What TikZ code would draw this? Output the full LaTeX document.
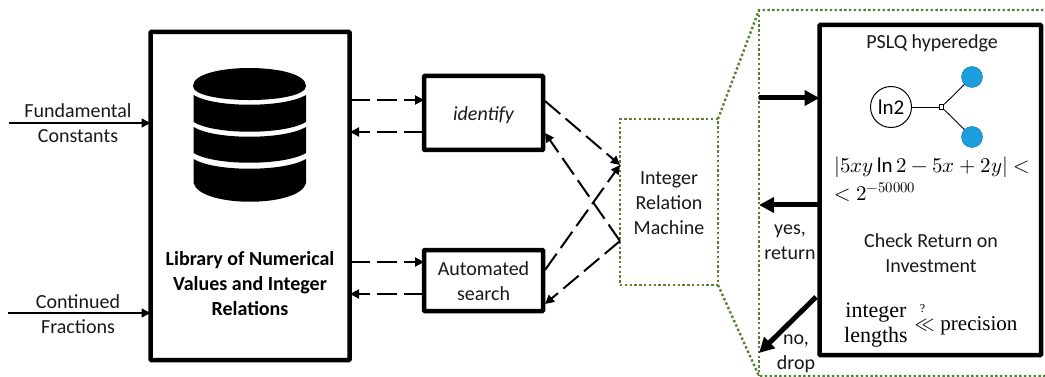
\documentclass[tikz,border=0pt]{standalone}
\usepackage{fontspec}
\usepackage{unicode-math}
\setmainfont{Carlito}
\setmathfont{Latin Modern Math}
\newfontfamily\cmb{Liberation Serif}
\usetikzlibrary{arrows.meta,calc}
\definecolor{dotgreen}{RGB}{84,130,53}
\definecolor{hubblue}{RGB}{27,157,222}
\tikzset{
 x=1pt,y=-1pt,
 thickbox/.style={draw=black,line width=4.5pt,fill=white,rounded corners=0.8pt,inner sep=0pt,outer sep=0pt,anchor=north west},
 lbl/.style={font=\fontsize{20}{25}\selectfont,align=center,text=black!90,inner sep=0pt},
 thinarrow/.style={line width=1.5pt,-{Triangle[length=9pt,width=9pt]}},
 dasharrow/.style={line width=2pt,dash pattern=on 20pt off 7pt,-{Triangle[length=9pt,width=9pt]}},
 bigarrow/.style={line width=5pt,-{Triangle[length=15pt,width=15pt]}},
 dotgreenline/.style={draw=dotgreen,line width=2.4pt,dash pattern=on 2.4pt off 2.4pt},
 hub/.style={circle,fill=hubblue,draw=hubblue!80!black,line width=0.5pt,minimum size=21pt,inner sep=0pt}
}
\begin{document}
\begin{tikzpicture}
\useasboundingbox (0,0) rectangle (1045,377);
\fill[white] (0,0) rectangle (1045,377);
% boxes
\node[thickbox,minimum width=199pt,minimum height=328pt] (lib) at (150.5,32) {};
\node[thickbox,minimum width=119pt,minimum height=74pt] (ident) at (424,76) {};
\node[thickbox,minimum width=119pt,minimum height=61pt] (auto) at (424,250) {};
\node[dotgreenline,draw,minimum width=98pt,minimum height=166pt,inner sep=0pt,outer sep=0pt,anchor=north west] (irm) at (620,119) {};
% dotted zoom
\coordinate (zt) at (759,10);
\coordinate (zb) at (759,376);
\coordinate (ztr) at (1045,10);
\coordinate (zbr) at (1045,376);
\draw[dotgreenline] (irm.north east) -- (zt) -- (ztr);
\draw[dotgreenline] (irm.south east) -- (zb) -- (zbr);
\draw[dotgreenline] (zt) -- (zb);
\node[thickbox,minimum width=221.5pt,minimum height=330pt] (pslq) at (819.5,25) {};
% database
\fill[black] (193,86) .. controls (193,62) and (306,62) .. (306,86) .. controls (306,104.7) and (193,104.7) .. (193,86) -- cycle;
\fill[black] (193.5,95) .. controls (215,108) and (284,108) .. (306,95) -- (306,122) .. controls (284,135) and (215,135) .. (193.5,122) -- cycle;
\fill[black] (193.5,127) .. controls (215,140) and (284,140) .. (306,127) -- (306,153) .. controls (284,166) and (215,166) .. (193.5,153) -- cycle;
\fill[black] (193.5,159) .. controls (215,172) and (284,172) .. (306,159) -- (306,183) .. controls (300,208) and (200,208) .. (193.5,183) -- cycle;
% labels
\node[lbl] (fc) at (78,123.5) {Fundamental\\Constants};
\node[lbl] (cf) at (78,314) {Continued\\Fractions};
\node[lbl,font=\fontsize{20}{25}\selectfont\bfseries,text=black] (libtxt) at (250,284) {Library of Numerical\\Values and Integer\\Relations};
\node[lbl,font=\fontsize{20}{25}\selectfont\itshape] (idtxt) at (483.5,115) {identify};
\node[lbl] (autotxt) at (483.5,281) {Automated\\search};
\node[lbl] (irmtxt) at (669,203) {Integer\\Relation\\Machine};
\node[lbl] (ptitle) at (932,43) {PSLQ hyperedge};
\node[lbl] (roi) at (931,253) {Check Return on\\Investment};
\node[lbl] (yes) at (790,242) {yes,\\return};
\node[lbl] (no) at (796,354) {no,\\drop};
% hyperedge
\node[circle,draw,line width=1pt,minimum size=41pt,inner sep=0pt,font=\fontsize{21}{24}\selectfont] (ln) at (891,107) {ln2};
\node[draw,line width=0.8pt,fill=white,minimum size=4.5pt,inner sep=0pt] (hb) at (941.5,107) {};
\node[hub] (h1) at (972,77) {};
\node[hub] (h2) at (972,137) {};
\draw[line width=0.9pt] (ln) -- (hb);
\draw[line width=0.9pt] (hb) -- (h1);
\draw[line width=0.9pt] (hb) -- (h2);
% formula
\node[inner sep=0pt,anchor=west,font=\fontsize{21}{24}\selectfont] (f1) at (834,167) {$|5xy\ln 2-5x+2y|<$};
\node[inner sep=0pt,anchor=west,font=\fontsize{21}{24}\selectfont] (f2) at (834,192) {$<2^{-50000}$};
\node[inner sep=0pt,font=\fontsize{22}{25}\selectfont\cmb,align=center,anchor=center] (il) at (876,325) {integer\\lengths};
\node[inner sep=0pt,anchor=west,font=\fontsize{21}{24}\selectfont\cmb] (pr) at (914,326) {$\ll$ precision};
\node[inner sep=0pt,font=\fontsize{12}{12}\selectfont\cmb] (q) at (922.5,309) {?};
% connectors
\coordinate (fs) at (9,123); \coordinate (cs) at (8,313);
\draw[thinarrow] (fs) -- (fs-|lib.west);
\draw[thinarrow] (cs) -- (cs-|lib.west);
\coordinate (a1) at (350,100); \coordinate (a2) at (350,132);
\coordinate (a3) at (350,262); \coordinate (a4) at (350,294);
\draw[dasharrow] (a1) -- (a1-|ident.west);
\draw[dasharrow] (a2-|ident.west) -- (a2);
\draw[dasharrow] (a3) -- (a3-|auto.west);
\draw[dasharrow] (a4-|auto.west) -- (a4);
\coordinate (i1) at (545,101); \coordinate (i2) at (545,133);
\coordinate (au1) at (545,270); \coordinate (au2) at (545,304);
\coordinate (m1) at (620,165); \coordinate (m2) at (620,241);
\draw[dasharrow] (i1) -- (m1);
\draw[dasharrow] (au1) -- (m1);
\draw[dasharrow] (m2) -- (i2);
\draw[dasharrow] (m2) -- (au2);
\coordinate (bi) at (759,98); \coordinate (bo) at (759,205); \coordinate (bn) at (759,353); \coordinate (bns) at (816,297);
\draw[bigarrow] (bi) -- (bi-|pslq.west);
\draw[bigarrow] (bo-|pslq.west) -- (bo);
\draw[bigarrow] (bns) -- (bn);
\end{tikzpicture}
\end{document}
